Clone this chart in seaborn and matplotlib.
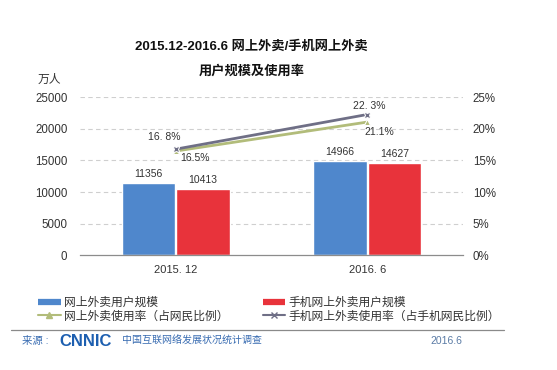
import numpy as np
import pandas as pd
import seaborn as sns
from matplotlib import pyplot as plt
from matplotlib.lines import Line2D
from matplotlib.ticker import FuncFormatter, FixedLocator

periods = ["2015. 12", "2016. 6"]
users_all = [11356, 14966]
users_mobile = [10413, 14627]
rate_all = [16.5, 21.1]
rate_mobile = [16.8, 22.3]
rate_all_labels = ["16.5%", "21.1%"]
rate_mobile_labels = ["16. 8%", "22. 3%"]

bar_names = ["网上外卖用户规模", "手机网上外卖用户规模"]
line_names = ["网上外卖使用率（占网民比例）", "手机网上外卖使用率（占手机网民比例）"]

blue = "#4F87CC"
red = "#E8333B"
green = "#B2BC7A"
gray = "#6F6F86"
text_color = "#333333"
foot_blue = "#3A6DB2"

sns.set_theme(style="white")
plt.rcParams["font.family"] = ["Liberation Sans", "Noto Sans CJK SC", "DejaVu Sans"]

bars_df = pd.DataFrame(
    {
        "period": periods * 2,
        "users": users_all + users_mobile,
        "series": [bar_names[0]] * 2 + [bar_names[1]] * 2,
    }
)
rates_df = pd.DataFrame(
    {
        "pos": list(range(len(periods))) * 2,
        "rate": rate_all + rate_mobile,
        "series": [line_names[0]] * 2 + [line_names[1]] * 2,
    }
)

fig = plt.figure(figsize=(5.57, 3.70), dpi=100)
ax = fig.add_axes([0.1436, 0.3108, 0.6876, 0.4257])

sns.barplot(
    data=bars_df, x="period", y="users", hue="series",
    palette=[blue, red], width=0.57, gap=0.02, saturation=1,
    legend=False, ax=ax,
)
for cont in ax.containers:
    ax.bar_label(cont, fmt="{:.0f}", padding=3, fontsize=7.5, color=text_color)

ax.set_ylim(0, 25000)
ax.set_yticks(np.arange(0, 25001, 5000))
ax.set_xlim(-0.5, 1.5)
ax.set_xlabel("")
ax.set_ylabel("")
for y in np.arange(5000, 25001, 5000):
    ax.axhline(y, color="#CFCFCF", lw=0.8, ls=(0, (4, 3)), zorder=0)
for s in ["top", "left", "right"]:
    ax.spines[s].set_visible(False)
ax.spines["bottom"].set_color("#8C8C8C")
ax.spines["bottom"].set_linewidth(0.9)
ax.tick_params(axis="y", length=0, pad=9, labelsize=8.3, labelcolor=text_color)
ax.tick_params(axis="x", which="major", length=0, pad=7, labelsize=8, labelcolor=text_color)
ax.xaxis.set_minor_locator(FixedLocator([-0.5, 0.5, 1.5]))
ax.tick_params(axis="x", which="minor", length=3, color="#8C8C8C", width=0.9)

ax2 = ax.twinx()
sns.lineplot(
    data=rates_df, x="pos", y="rate", hue="series", style="series",
    palette=[green, gray], markers={line_names[0]: "^", line_names[1]: "X"},
    dashes=False, lw=2, markersize=5, legend=False, ax=ax2,
)
ax2.set_ylim(0, 25)
ax2.set_yticks(np.arange(0, 26, 5))
ax2.yaxis.set_major_formatter(FuncFormatter(lambda v, p: f"{v:.0f}%"))
ax2.set_ylabel("")
for s in ["top", "left", "right", "bottom"]:
    ax2.spines[s].set_visible(False)
ax2.tick_params(axis="y", length=0, pad=7, labelsize=8.3, labelcolor=text_color)

offsets_all = [(14, -5), (9, -7)]
offsets_mobile = [(-8, 9), (1.5, 6)]
for i in range(len(periods)):
    ax2.annotate(rate_all_labels[i], (i, rate_all[i]), xytext=offsets_all[i],
                 textcoords="offset points", ha="center", va="center",
                 fontsize=7.5, color=text_color)
    ax2.annotate(rate_mobile_labels[i], (i, rate_mobile[i]), xytext=offsets_mobile[i],
                 textcoords="offset points", ha="center", va="center",
                 fontsize=7.5, color=text_color)

fig.text(0.088, 0.784, "万人", ha="center", va="center", fontsize=8.5, color=text_color)
fig.text(0.452, 0.873, "2015.12-2016.6 网上外卖/手机网上外卖", ha="center", va="center",
         fontsize=9.5, fontweight="bold", color="#111111")
fig.text(0.452, 0.808, "用户规模及使用率", ha="center", va="center",
         fontsize=9.5, fontweight="bold", color="#111111")

handles = [
    Line2D([], [], color=blue, lw=4.5, solid_capstyle="butt"),
    Line2D([], [], color=green, lw=1.5, marker="^", markersize=4),
    Line2D([], [], color=red, lw=4.5, solid_capstyle="butt"),
    Line2D([], [], color=gray, lw=1.5, marker="x", markersize=5),
]
labels = [bar_names[0], line_names[0], bar_names[1], line_names[1]]
fig.legend(handles, labels, loc="upper left", bbox_to_anchor=(0.058, 0.214), ncol=2,
           frameon=False, fontsize=8.5, handlelength=1.9, handletextpad=0.3,
           columnspacing=2.9, labelspacing=0.15, borderpad=0, labelcolor=text_color)

fig.add_artist(Line2D([0.02, 0.905], [0.108, 0.108], color="#8A8A8A", lw=0.9,
                      transform=fig.transFigure))
fig.text(0.04, 0.078, "来源 :", ha="left", va="center", fontsize=7.5, color=foot_blue)
fig.text(0.107, 0.078, "CNNIC", ha="left", va="center", fontsize=12, fontweight="bold",
         color="#1D5FB0")
fig.text(0.219, 0.078, "中国互联网络发展状况统计调查", ha="left", va="center",
         fontsize=7.2, color=foot_blue)
fig.text(0.83, 0.078, "2016.6", ha="right", va="center", fontsize=7.5, color="#5A7BA5")

fig.savefig("out.png", dpi=100)
